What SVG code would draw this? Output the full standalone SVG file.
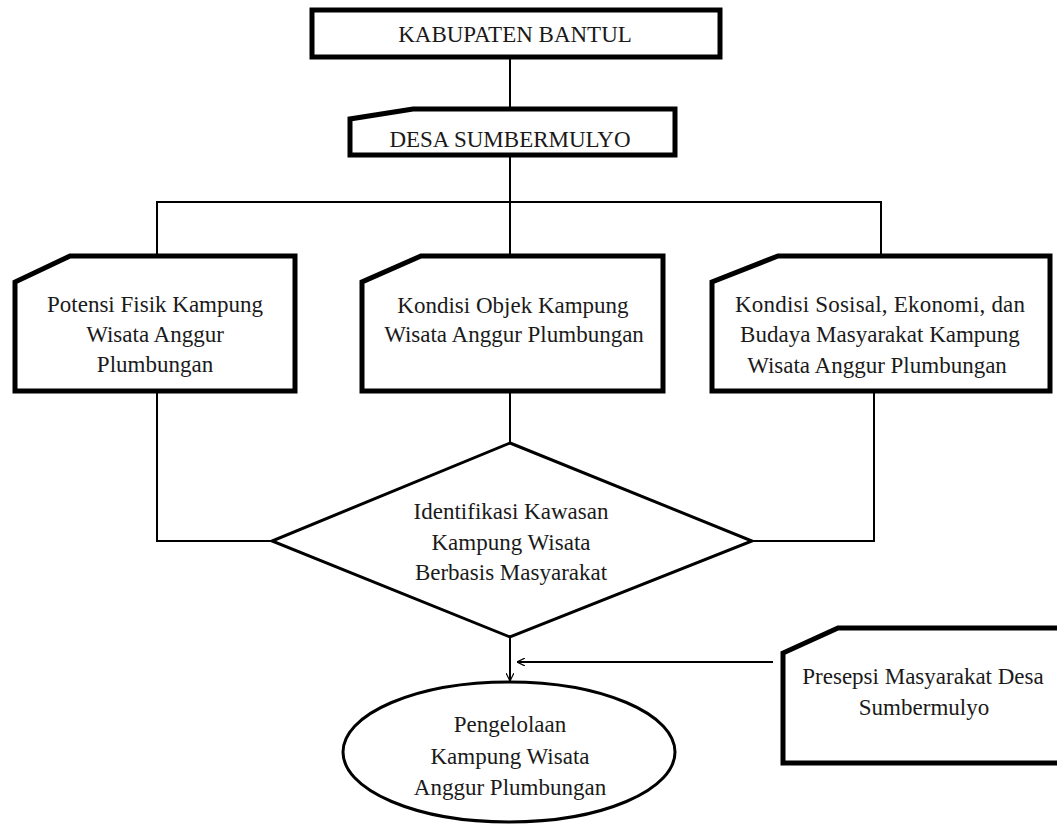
<svg xmlns="http://www.w3.org/2000/svg" width="1057" height="825" viewBox="0 0 1057 825">
<defs>
<style>
.box{fill:#fff;stroke:#000;stroke-width:5;stroke-linejoin:miter}
.thin{fill:#fff;stroke:#000;stroke-width:3}
.conn{fill:none;stroke:#000;stroke-width:2}
text{font-family:"Liberation Serif","Times New Roman",serif;font-size:23px;fill:#1a1a1a;text-anchor:middle}
</style>
<marker id="arr" viewBox="0 0 10 10" refX="10" refY="5" markerWidth="8" markerHeight="8" markerUnits="userSpaceOnUse" orient="auto">
<path d="M0,0 L10,5 L0,10" fill="none" stroke="#000" stroke-width="1.5"/>
</marker>
</defs>
<rect width="1057" height="825" fill="#fff"/>
<g id="connectors">
<line class="conn" x1="510" y1="57" x2="510" y2="109"/>
<line class="conn" x1="510" y1="155" x2="510" y2="202"/>
<polyline class="conn" points="157,256 157,202 881,202 881,256"/>
<line class="conn" x1="510" y1="202" x2="510" y2="256"/>
<polyline class="conn" points="157,391 157,541 272,541"/>
<line class="conn" x1="510" y1="391" x2="510" y2="443"/>
<polyline class="conn" points="874,391 874,541 752,541"/>
<line class="conn" x1="510" y1="637" x2="510" y2="681" marker-end="url(#arr)"/>
<line class="conn" x1="773" y1="662" x2="517" y2="662" marker-end="url(#arr)"/>
</g>
<g id="kabupaten">
<rect class="box" x="312" y="10" width="408" height="47"/>
<text x="515" y="42">KABUPATEN BANTUL</text>
</g>
<g id="desa">
<path class="box" d="M350,155 L350,119 L413,109 L675,109 L675,155 Z"/>
<text x="510" y="147">DESA SUMBERMULYO</text>
</g>
<g id="potensi">
<path class="box" d="M15,391 L15,282 L70,256 L295,256 L295,391 Z"/>
<text x="155" y="312">Potensi Fisik Kampung</text>
<text x="155" y="342">Wisata Anggur</text>
<text x="155" y="372">Plumbungan</text>
</g>
<g id="objek">
<path class="box" d="M362,391 L362,282 L421,256 L663,256 L663,391 Z"/>
<text x="513" y="313">Kondisi Objek Kampung</text>
<text x="514" y="342">Wisata Anggur Plumbungan</text>
</g>
<g id="sosial">
<path class="box" d="M712,391 L712,282 L778,256 L1050,256 L1050,391 Z"/>
<text x="880" y="312" textLength="290" lengthAdjust="spacing">Kondisi Sosisal, Ekonomi, dan</text>
<text x="880" y="342">Budaya Masyarakat Kampung</text>
<text x="877" y="373">Wisata Anggur Plumbungan</text>
</g>
<g id="identifikasi">
<polygon class="thin" points="510,443 752,541 510,637 272,541"/>
<text x="511" y="519">Identifikasi Kawasan</text>
<text x="511" y="550">Kampung Wisata</text>
<text x="511" y="580">Berbasis Masyarakat</text>
</g>
<g id="pengelolaan">
<ellipse class="thin" cx="509" cy="752" rx="166" ry="70"/>
<text x="510" y="732">Pengelolaan</text>
<text x="510" y="764">Kampung Wisata</text>
<text x="510" y="795">Anggur Plumbungan</text>
</g>
<g id="presepsi">
<path class="box" d="M1065,763 L783,763 L783,653 L838,628 L1065,628"/>
<text x="923" y="684">Presepsi Masyarakat Desa</text>
<text x="924" y="715">Sumbermulyo</text>
</g>
</svg>
